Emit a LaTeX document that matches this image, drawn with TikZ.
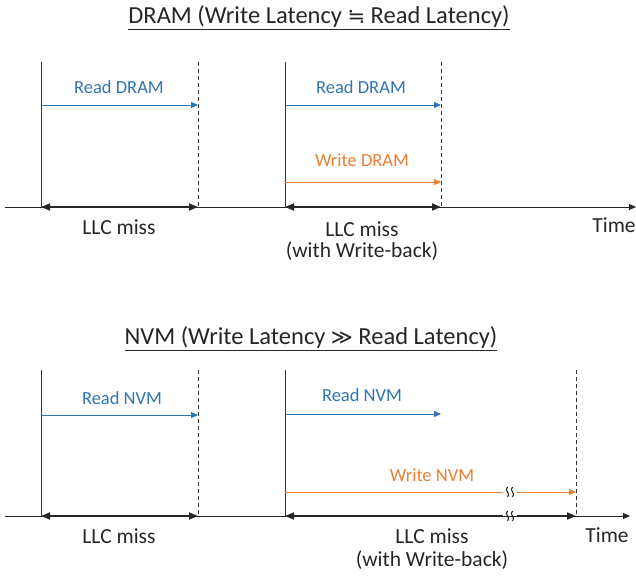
\documentclass[tikz,border=0pt]{standalone}
\usepackage{fontspec}
\setmainfont{Carlito}
\newfontfamily\symfont{DejaVu Sans}
\usetikzlibrary{arrows.meta}
\definecolor{rdblue}{RGB}{46,117,182}
\definecolor{wrorange}{RGB}{237,125,49}
\tikzset{
  axisline/.style={line width=0.9pt,draw=black!85,-{Triangle[length=7pt,width=6pt]}},
  solidv/.style={line width=0.9pt,draw=black!80},
  dashv/.style={line width=0.9pt,draw=black!80,dashed,dash pattern=on 4pt off 3pt},
  readarr/.style={line width=0.9pt,draw=rdblue,-{Triangle[length=7pt,width=6pt]}},
  writearr/.style={line width=0.9pt,draw=wrorange,-{Triangle[length=7pt,width=6pt]}},
  missarr/.style={line width=1.8pt,draw=black!85,{Triangle[length=9pt,width=7pt]}-{Triangle[length=9pt,width=7pt]}},
  missend/.style={line width=1.8pt,draw=black!85,-{Triangle[length=9pt,width=7pt]}},
  lbl/.style={font=\fontsize{21.5}{25}\selectfont,text=black!85,inner sep=0pt},
  rlbl/.style={font=\fontsize{18.5}{22}\selectfont,text=rdblue,inner sep=0pt},
  wlbl/.style={font=\fontsize{18.5}{22}\selectfont,text=wrorange,inner sep=0pt},
  ttl/.style={font=\fontsize{24.5}{29}\selectfont,text=black!85,inner sep=0pt},
  brk/.style={line width=1.1pt,draw=black!85},
}
\begin{document}
\begin{tikzpicture}[x=1pt,y=-1pt]
\useasboundingbox (0,0) rectangle (636,575);
% ---------- DRAM ----------
\node[ttl] (t1) at (319,18) {\underline{DRAM (Write Latency {\symfont\fontsize{21}{24}\selectfont ≒} Read Latency)}};
\coordinate (a1s) at (5,207);
\coordinate (a1e) at (636,207);
\draw[axisline] (a1s) -- (a1e);
\node[lbl] (time1) at (614,225) {Time};
\coordinate (v1t) at (41,62);  \coordinate (v1b) at (41,207);
\coordinate (d1t) at (198,62); \coordinate (d1b) at (198,207);
\coordinate (v2t) at (285,62); \coordinate (v2b) at (285,207);
\coordinate (d2t) at (441,62); \coordinate (d2b) at (441,207);
\draw[solidv] (v1t) -- (v1b);
\draw[solidv] (v2t) -- (v2b);
\draw[dashv] (d1t) -- (d1b);
\draw[dashv] (d2t) -- (d2b);
\coordinate (r1s) at (41,105); \coordinate (r1e) at (198,105);
\draw[readarr] (r1s) -- (r1e);
\node[rlbl] (r1l) at (119,87) {Read DRAM};
\coordinate (r2s) at (285,105); \coordinate (r2e) at (441,105);
\draw[readarr] (r2s) -- (r2e);
\node[rlbl] (r2l) at (361,87) {Read DRAM};
\coordinate (w1s) at (285,182); \coordinate (w1e) at (441,182);
\draw[writearr] (w1s) -- (w1e);
\node[wlbl] (w1l) at (362,160) {Write DRAM};
\draw[missarr] (v1b) -- (d1b);
\node[lbl] (m1) at (119,227) {LLC miss};
\draw[missarr] (v2b) -- (d2b);
\node[lbl] (m2) at (362,229) {LLC miss};
\node[lbl] (m2b) at (362,251) {(with Write-back)};
% ---------- NVM ----------
\node[ttl] (t2) at (311,339) {\underline{NVM (Write Latency {\symfont\fontsize{21}{24}\selectfont ≫} Read Latency)}};
\coordinate (a2s) at (5,516);
\coordinate (a2e) at (630,516);
\draw[axisline] (a2s) -- (a2e);
\node[lbl] (time2) at (607,535) {Time};
\coordinate (v3t) at (41,370);  \coordinate (v3b) at (41,516);
\coordinate (d3t) at (198,370); \coordinate (d3b) at (198,516);
\coordinate (v4t) at (285,370); \coordinate (v4b) at (285,516);
\coordinate (d4t) at (576,370); \coordinate (d4b) at (576,516);
\draw[solidv] (v3t) -- (v3b);
\draw[solidv] (v4t) -- (v4b);
\draw[dashv] (d3t) -- (d3b);
\draw[dashv] (d4t) -- (d4b);
\coordinate (r3s) at (41,415); \coordinate (r3e) at (198,415);
\draw[readarr] (r3s) -- (r3e);
\node[rlbl] (r3l) at (122,398) {Read NVM};
\coordinate (r4s) at (285,414); \coordinate (r4e) at (441,414);
\draw[readarr] (r4s) -- (r4e);
\node[rlbl] (r4l) at (362,395) {Read NVM};
% write NVM with break
\coordinate (w2s) at (285,492); \coordinate (w2a) at (503,492);
\coordinate (w2b) at (517,492); \coordinate (w2e) at (576,492);
\draw[wrorange,line width=0.9pt] (w2s) -- (w2a);
\draw[writearr] (w2b) -- (w2e);
\node[wlbl] (w2l) at (432,475) {Write NVM};
\draw[brk] (507.5,487) .. controls (503.5,490) and (511.5,494) .. (507.5,497);
\draw[brk] (512.5,487) .. controls (508.5,490) and (516.5,494) .. (512.5,497);
% LLC miss with break
\coordinate (m4a) at (503,516); \coordinate (m4b) at (517,516);
\draw[missarr] (v3b) -- (d3b);
\node[lbl] (m3) at (119,536) {LLC miss};
\draw[line width=1.8pt,draw=black!85,{Triangle[length=9pt,width=7pt]}-] (v4b) -- (m4a);
\draw[missend] (m4b) -- (d4b);
\draw[brk] (507.5,511) .. controls (503.5,514) and (511.5,518) .. (507.5,521);
\draw[brk] (512.5,511) .. controls (508.5,514) and (516.5,518) .. (512.5,521);
\node[lbl] (m4) at (432,536) {LLC miss};
\node[lbl] (m4l) at (432,560) {(with Write-back)};
\end{tikzpicture}
\end{document}
